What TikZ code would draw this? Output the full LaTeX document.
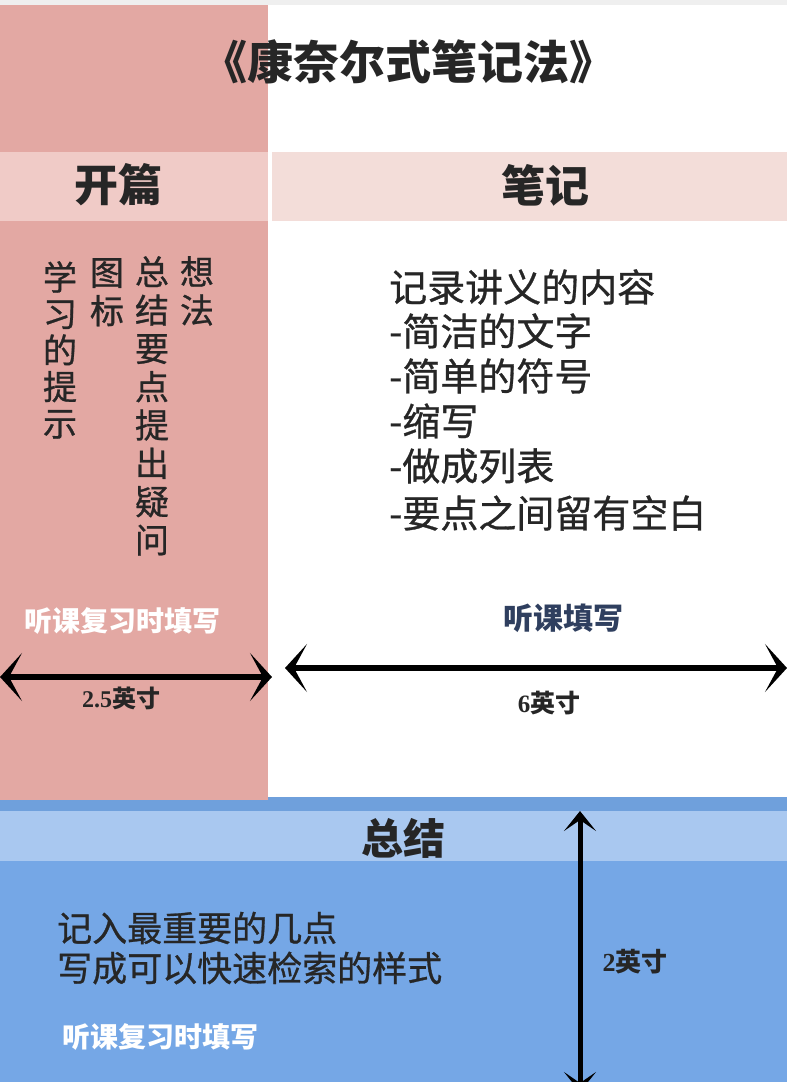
\documentclass[tikz,border=0pt]{standalone}
\usepackage{fontspec}
\setmainfont{Liberation Serif}
\newfontfamily\cjk{Noto Sans CJK SC}
\newfontfamily\cjkm[FakeBold=0.8]{Noto Sans CJK SC}
\usetikzlibrary{arrows.meta}
\definecolor{pinkcol}{HTML}{E3A8A3}
\definecolor{pinkhead}{HTML}{F0CBC7}
\definecolor{notehead}{HTML}{F3DDD9}
\definecolor{bluetop}{HTML}{6FA0DC}
\definecolor{bluehead}{HTML}{A9C8F0}
\definecolor{bluebody}{HTML}{75A7E6}
\definecolor{navytext}{HTML}{2F3F5F}
\definecolor{edgegray}{HTML}{EFEFEF}
\begin{document}
\begin{tikzpicture}[x=1pt,y=-1pt,
  dimarrow/.style={line width=6pt,{Stealth[length=22pt,width=48pt,inset=13pt]}-{Stealth[length=22pt,width=48pt,inset=13pt]}},
  vdimarrow/.style={line width=5pt,{Stealth[length=20pt,width=32pt,inset=11pt]}-{Stealth[length=20pt,width=32pt,inset=11pt]}},
  txt/.style={inner sep=0pt,text=black!85},
  headtxt/.style={txt,font=\cjk\bfseries\fontsize{44}{48}\selectfont},
  vcol/.style={txt,anchor=north,align=center,font=\cjkm\fontsize{34}{38.3}\selectfont},
  notetxt/.style={txt,anchor=west,font=\cjkm\fontsize{38}{40}\selectfont},
  filltxt/.style={txt,font=\cjk\bfseries\fontsize{28}{30}\selectfont},
  dimtxt/.style={txt,font=\bfseries\fontsize{24}{26}\selectfont}
]
\useasboundingbox (0,0) rectangle (787,1082);
% backgrounds
\fill[white] (0,0) rectangle (787,1082);
\fill[edgegray] (0,0) rectangle (787,5);
\fill[pinkcol] (0,5) rectangle (268,800);
\fill[pinkhead] (0,152) rectangle (268,221);
\fill[notehead] (272,152) rectangle (787,221);
\fill[bluetop] (0,797) rectangle (787,811);
\fill[pinkcol] (0,797) rectangle (268,800);
\fill[bluehead] (0,811) rectangle (787,861);
\fill[bluebody] (0,861) rectangle (787,1082);

% title and headers
\node[txt,font=\cjk\bfseries\fontsize{46}{50}\selectfont] (title) at (408,62) {《康奈尔式笔记法》};
\node[headtxt] (kaipian) at (118,185) {开篇};
\node[headtxt] (biji) at (545,185) {笔记};
\node[headtxt,font=\cjk\bfseries\fontsize{42}{46}\selectfont] (zongjie) at (403,838) {总结};

% left vertical columns (read right to left)
\node[vcol] (c1) at (197,256) {想\\法};
\node[vcol] (c2) at (152,256) {总\\结\\要\\点\\提\\出\\疑\\问};
\node[vcol] (c3) at (107,258) {图\\标};
\node[vcol,font=\cjkm\fontsize{34}{36.5}\selectfont] (c4) at (60,261) {学\\习\\的\\提\\示};

% note list
\node[notetxt] (n1) at (389,287) {记录讲义的内容};
\node[notetxt] (n2) at (389,331) {-简洁的文字};
\node[notetxt] (n3) at (389,376) {-简单的符号};
\node[notetxt] (n4) at (389,421) {-缩写};
\node[notetxt] (n5) at (389,466) {-做成列表};
\node[notetxt] (n6) at (389,513) {-要点之间留有空白};

% fill-in labels
\node[filltxt,text=white] (f1) at (122,621) {听课复习时填写};
\node[filltxt,text=navytext,font=\cjk\bfseries\fontsize{30}{32}\selectfont] (f2) at (563,618) {听课填写};
\node[filltxt,text=white] (f3) at (160,1037) {听课复习时填写};

% summary text
\node[notetxt,font=\cjkm\fontsize{35}{40}\selectfont] (s1) at (57,928) {记入最重要的几点};
\node[notetxt,font=\cjkm\fontsize{35}{40}\selectfont] (s2) at (57,968) {写成可以快速检索的样式};

% dimension arrows
\coordinate (la) at (0,677);
\coordinate (lb) at (272,677);
\coordinate (ra) at (285,668);
\coordinate (rb) at (787,668);
\coordinate (va) at (580,811);
\coordinate (vb) at (580,1092);
\draw[dimarrow] (la) -- (lb);
\draw[dimarrow] (ra) -- (rb);
\draw[vdimarrow] (va) -- (vb);
\node[dimtxt] (d1) at (121,698) {2.5{\cjk 英寸}};
\node[dimtxt,font=\bfseries\fontsize{25}{27}\selectfont] (d2) at (549,703) {6{\cjk 英寸}};
\node[dimtxt,font=\bfseries\fontsize{26}{28}\selectfont] (d3) at (635,962) {2{\cjk 英寸}};
\end{tikzpicture}
\end{document}
